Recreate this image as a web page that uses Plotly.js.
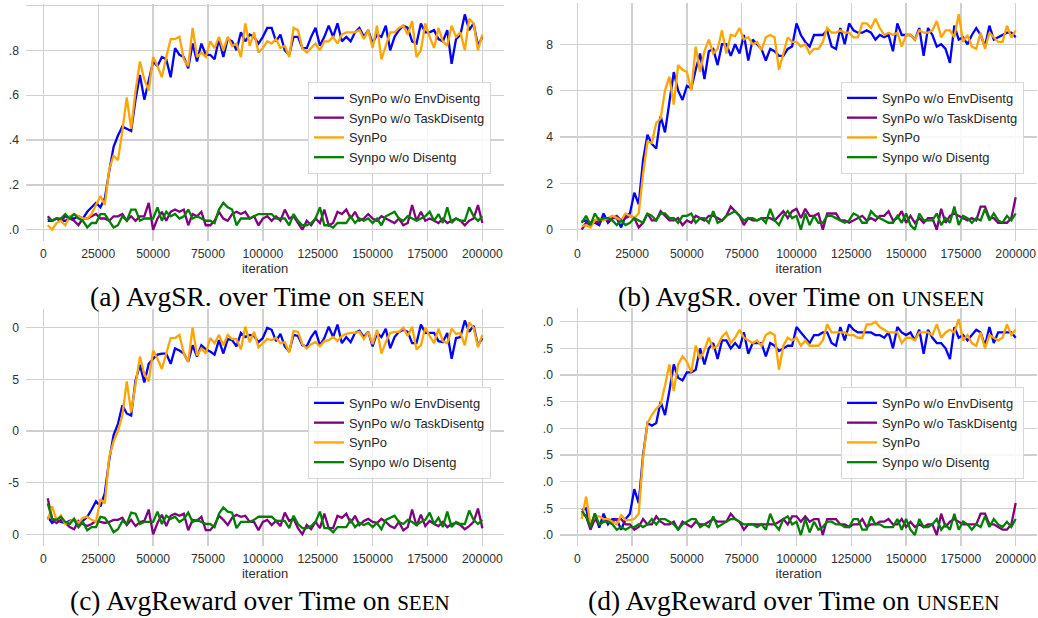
<!DOCTYPE html>
<html>
<head>
<meta charset="utf-8">
<script src="https://cdn.plot.ly/plotly-3.0.1.min.js"></script>
<style>
html,body{margin:0;padding:0;background:#fff;}
#chart{width:1038px;height:618px;}
</style>
</head>
<body>
<div id="chart"></div>
<script>
// iterations (x values)
const iterations = [2000,4000,6000,8000,10000,12000,14000,16000,18000,20000,
22000,24000,26000,28000,30000,32000,34000,36000,38000,40000,
42000,44000,46000,48000,50000,52000,54000,56000,58000,60000,
62000,64000,66000,68000,70000,72000,74000,76000,78000,80000,
82000,84000,86000,88000,90000,92000,94000,96000,98000,100000,
102000,104000,106000,108000,110000,112000,114000,116000,118000,120000,
122000,124000,126000,128000,130000,132000,134000,136000,138000,140000,
142000,144000,146000,148000,150000,152000,154000,156000,158000,160000,
162000,164000,166000,168000,170000,172000,174000,176000,178000,180000,
182000,184000,186000,188000,190000,192000,194000,196000,198000,200000];

const seriesNames = ["SynPo w/o EnvDisentg", "SynPo w/o TaskDisentg", "SynPo", "Synpo w/o Disentg"];
const seriesColors = ["#0000ff", "#800080", "#ffa500", "#008000"];

const xTickVals = [0,25000,50000,75000,100000,125000,150000,175000,200000];
const xTickText = ["0","25000","50000","75000","100000","125000","150000","175000","200000"];

// (a) AvgSR on SEEN
const srSeenEnv = [0.04,0.04,0.05,0.04,0.04,0.05,0.05,0.06,0.05,0.08,
0.10,0.12,0.10,0.14,0.26,0.37,0.42,0.46,0.45,0.44,
0.58,0.69,0.58,0.66,0.75,0.73,0.77,0.76,0.68,0.81,
0.78,0.77,0.72,0.83,0.75,0.83,0.78,0.78,0.76,0.85,
0.77,0.85,0.84,0.80,0.88,0.84,0.87,0.86,0.83,0.86,
0.90,0.90,0.84,0.87,0.80,0.78,0.86,0.86,0.81,0.81,
0.86,0.90,0.82,0.86,0.91,0.86,0.92,0.84,0.86,0.84,
0.88,0.90,0.86,0.89,0.83,0.87,0.86,0.91,0.80,0.86,
0.89,0.91,0.90,0.84,0.83,0.92,0.88,0.88,0.89,0.85,
0.84,0.89,0.74,0.85,0.87,0.96,0.89,0.92,0.82,0.86];
const srSeenTask = [0.06,0.04,0.05,0.04,0.06,0.05,0.04,0.02,0.05,0.05,
0.06,0.07,0.05,0.05,0.04,0.06,0.06,0.07,0.04,0.06,
0.04,0.06,0.06,0.12,0.00,0.05,0.08,0.04,0.08,0.09,
0.08,0.09,0.02,0.07,0.06,0.08,0.02,0.02,0.04,0.08,
0.05,0.04,0.07,0.08,0.07,0.08,0.05,0.06,0.02,0.05,
0.06,0.04,0.06,0.04,0.09,0.05,0.06,0.03,0.00,0.04,
0.02,0.05,0.03,0.09,0.02,0.03,0.08,0.07,0.09,0.05,
0.08,0.04,0.05,0.07,0.05,0.04,0.06,0.05,0.04,0.03,
0.05,0.02,0.03,0.11,0.04,0.08,0.04,0.05,0.04,0.03,
0.05,0.03,0.04,0.05,0.04,0.02,0.04,0.05,0.11,0.03];
const srSeenSynPo = [0.02,0.00,0.03,0.04,0.02,0.06,0.07,0.06,0.05,0.05,
0.07,0.11,0.15,0.11,0.27,0.33,0.31,0.44,0.59,0.45,
0.62,0.75,0.67,0.62,0.77,0.73,0.68,0.77,0.85,0.85,
0.86,0.76,0.73,0.90,0.77,0.79,0.77,0.84,0.81,0.86,
0.80,0.86,0.82,0.83,0.77,0.92,0.82,0.88,0.79,0.81,
0.84,0.83,0.85,0.81,0.82,0.77,0.90,0.89,0.81,0.79,
0.81,0.83,0.80,0.84,0.84,0.86,0.83,0.87,0.88,0.88,
0.88,0.89,0.85,0.89,0.81,0.91,0.76,0.82,0.88,0.88,
0.90,0.91,0.87,0.93,0.77,0.80,0.92,0.86,0.81,0.90,
0.84,0.82,0.91,0.86,0.88,0.80,0.94,0.92,0.80,0.87];
const srSeenNone = [0.05,0.04,0.05,0.05,0.07,0.05,0.07,0.05,0.04,0.01,
0.03,0.03,0.07,0.07,0.04,0.01,0.02,0.06,0.04,0.09,
0.09,0.04,0.05,0.05,0.05,0.10,0.04,0.08,0.06,0.07,
0.05,0.06,0.09,0.05,0.06,0.05,0.04,0.04,0.03,0.09,
0.12,0.10,0.09,0.02,0.05,0.05,0.05,0.06,0.07,0.07,
0.07,0.07,0.05,0.05,0.05,0.02,0.07,0.04,0.02,0.02,
0.03,0.05,0.10,0.02,0.02,0.01,0.03,0.03,0.03,0.06,
0.03,0.05,0.04,0.05,0.03,0.05,0.02,0.06,0.07,0.08,
0.05,0.04,0.06,0.05,0.04,0.05,0.06,0.08,0.04,0.07,
0.03,0.10,0.03,0.05,0.04,0.04,0.10,0.06,0.04,0.06];

// (b) AvgSR on UNSEEN
const srUnseenEnv = [0.35,0.4,0.3,0.3,0.2,0.7,0.3,0.5,0.5,0.1,
0.6,0.7,1.6,1.1,3.0,4.1,3.7,3.5,4.9,4.2,
5.5,6.8,6.0,5.6,6.2,6.1,6.9,7.6,6.5,7.7,
7.8,7.1,8.0,8.0,7.5,8.0,7.6,8.4,7.3,8.2,
8.0,7.8,7.3,7.8,7.7,7.5,7.5,7.8,7.9,8.9,
8.4,8.1,7.9,8.4,8.4,8.4,8.6,7.9,7.8,8.7,
8.0,8.9,8.6,8.5,8.5,8.6,8.5,8.2,8.4,8.3,
8.4,7.7,8.9,8.4,8.4,8.4,8.2,8.7,7.5,8.7,
8.4,7.9,8.0,7.8,7.2,8.8,8.2,8.3,8.0,8.4,
8.7,8.4,7.9,8.8,8.2,8.3,8.4,8.5,8.5,8.3];
const srUnseenTask = [0.0,0.3,0.2,0.4,0.3,0.5,0.4,0.5,0.6,0.4,
0.5,0.6,0.5,0.1,0.3,0.7,0.4,0.4,0.8,0.6,
0.4,0.4,0.5,0.2,0.4,0.3,0.6,0.5,0.4,0.6,
0.6,0.5,0.4,0.6,1.0,0.8,0.6,0.2,0.5,0.4,
0.4,0.5,0.5,0.5,0.4,0.6,0.8,0.5,0.8,0.9,
0.5,0.9,0.6,0.6,0.7,0.0,0.7,0.7,0.7,0.4,
0.4,0.3,0.4,0.5,0.6,0.4,0.5,0.4,0.6,0.6,
0.8,0.4,0.5,0.8,0.3,0.6,0.3,0.5,0.3,0.5,
0.5,0.0,0.9,0.3,0.6,0.7,0.6,0.5,0.4,0.5,
0.4,1.0,1.0,0.5,0.5,0.3,0.3,0.3,0.5,1.4];
const srUnseenSynPo = [0.15,0.2,0.1,0.4,0.5,0.4,0.5,0.6,0.5,0.4,
0.7,0.6,0.5,0.7,2.4,3.8,3.75,4.6,4.8,6.0,
6.6,5.4,7.1,6.9,6.8,6.0,7.9,6.8,7.7,8.2,
7.6,7.8,8.6,7.6,8.4,8.35,8.7,8.2,8.3,8.0,
8.1,7.75,8.3,8.4,8.3,6.9,7.6,8.3,8.1,8.1,
7.9,8.0,7.6,7.8,7.8,8.1,8.7,8.5,8.5,8.6,
8.5,8.5,8.3,8.3,8.9,8.9,8.7,9.1,8.7,8.4,
8.5,8.4,8.5,7.9,8.4,8.4,8.2,8.6,8.5,8.5,
8.6,9.0,8.3,8.6,8.6,8.3,9.3,8.1,8.4,7.9,
7.8,8.5,7.8,8.5,8.3,8.1,8.1,8.8,8.3,8.6];
const srUnseenNone = [0.3,0.6,0.2,0.7,0.4,0.5,0.5,0.4,0.2,0.4,
0.2,0.3,0.5,0.4,0.3,0.7,0.6,0.4,0.7,0.7,
0.5,0.5,0.3,0.6,0.6,0.7,0.3,0.5,0.5,0.3,
0.8,0.3,0.4,0.6,0.7,0.8,0.6,0.4,0.5,0.5,
0.4,0.5,0.3,0.9,0.4,0.2,0.6,0.8,0.5,0.6,
0.0,0.7,0.2,0.6,0.3,0.3,0.6,0.6,0.5,0.4,
0.3,0.4,0.7,0.6,0.3,0.3,0.8,0.6,0.5,0.4,
0.3,0.3,0.6,0.3,0.7,0.2,0.0,0.7,0.4,0.4,
0.4,0.7,0.2,0.5,0.3,1.0,0.2,0.6,0.5,0.3,
0.5,0.4,0.9,0.4,0.7,0.4,0.3,0.6,0.4,0.7];

// (c) AvgReward on SEEN
const rwSeenEnv = [-8.3,-8.9,-8.6,-8.8,-8.9,-8.7,-8.6,-9.2,-8.7,-8.3,
-7.6,-6.8,-7.3,-6.0,-2.8,-0.4,0.7,2.5,1.7,1.5,
4.9,6.4,4.7,6.5,7.0,7.4,7.5,7.5,6.5,8.0,
7.8,7.5,6.7,8.3,7.2,8.3,7.9,7.7,7.4,8.8,
7.5,8.9,8.8,8.2,9.5,9.1,9.3,9.2,8.6,9.0,
10.0,9.8,8.7,9.4,8.2,7.7,9.3,9.2,8.3,8.2,
9.1,9.7,8.3,9.0,10.1,9.1,10.3,8.5,9.1,8.6,
9.5,9.7,9.1,9.6,8.2,9.5,9.1,9.9,8.0,9.1,
9.6,9.8,9.6,8.5,8.5,10.3,9.5,9.5,9.5,8.7,
8.6,9.5,7.0,9.0,9.1,10.7,9.6,10.2,8.3,9.0];
const rwSeenTask = [-6.5,-8.5,-8.9,-8.6,-8.9,-9.3,-9.5,-8.7,-9.0,-9.2,
-9.0,-8.7,-8.8,-8.9,-8.8,-8.6,-8.6,-8.4,-9.1,-8.6,
-9.2,-8.8,-8.7,-7.6,-10.0,-8.9,-8.1,-9.2,-8.2,-8.0,
-8.2,-8.0,-9.6,-8.6,-8.7,-8.3,-9.6,-9.6,-9.1,-8.2,
-8.6,-9.1,-8.4,-8.1,-8.3,-8.2,-8.8,-8.8,-9.6,-8.8,
-8.6,-9.1,-8.7,-9.2,-7.9,-8.7,-8.5,-9.4,-10.0,-9.1,
-9.5,-8.8,-9.4,-8.0,-9.4,-9.4,-8.2,-8.4,-8.0,-8.9,
-8.2,-9.1,-8.7,-8.5,-8.8,-8.9,-8.5,-8.8,-9.2,-9.4,
-8.8,-9.6,-9.3,-7.6,-9.2,-8.1,-9.2,-8.7,-9.0,-9.2,
-8.8,-9.3,-9.0,-8.9,-9.1,-9.5,-9.2,-8.8,-7.5,-9.4];
const rwSeenSynPo = [-8.6,-7.3,-8.6,-8.2,-9.0,-8.8,-8.5,-8.9,-8.4,-8.3,
-8.6,-8.8,-6.6,-7.0,-2.5,-1.0,0.0,1.5,4.8,1.8,
4.5,7.2,5.5,4.8,7.8,7.0,6.0,7.5,9.0,9.0,
9.3,7.5,6.7,10.0,7.3,8.0,7.5,9.0,8.5,9.3,
8.3,9.3,8.9,8.9,7.9,10.1,8.6,9.6,8.1,8.5,
8.9,8.8,9.0,8.5,8.6,7.6,9.7,9.6,8.4,8.0,
8.4,8.6,8.2,8.7,8.8,9.1,8.7,9.2,9.4,9.5,
9.5,9.6,8.9,9.6,8.4,9.8,7.5,8.6,9.5,9.6,
9.6,10.0,9.2,10.1,7.9,8.3,10.0,9.2,8.5,9.9,
8.7,8.5,9.9,9.4,9.5,8.3,10.5,10.0,8.1,9.3];
const rwSeenNone = [-7.0,-8.5,-8.6,-8.3,-8.8,-9.0,-8.5,-9.3,-8.8,-9.6,
-9.3,-9.3,-8.3,-8.4,-9.0,-9.8,-9.5,-8.7,-9.0,-7.9,
-8.0,-9.0,-8.8,-8.8,-8.8,-7.8,-9.0,-8.2,-8.5,-8.3,
-8.8,-8.5,-7.9,-8.8,-8.6,-8.8,-9.0,-9.0,-9.3,-8.0,
-7.4,-7.8,-7.9,-9.4,-8.8,-8.8,-8.8,-8.6,-8.3,-8.3,
-8.3,-8.3,-8.7,-8.7,-8.7,-9.4,-8.2,-9.0,-9.4,-9.4,
-9.2,-8.8,-7.8,-9.4,-9.4,-9.8,-9.3,-9.3,-9.3,-8.6,
-9.3,-8.9,-9.1,-8.9,-9.3,-8.9,-9.5,-8.6,-8.4,-8.2,
-8.8,-9.0,-8.6,-8.8,-9.1,-8.8,-8.6,-7.9,-9.0,-8.4,
-9.3,-7.8,-9.3,-8.8,-9.0,-9.0,-7.7,-8.6,-9.0,-8.6];

// (d) AvgReward on UNSEEN
const rwUnseenEnv = [0.47,0.5,0.13,0.4,0.14,0.4,0.2,0.3,0.3,0.1,
0.3,0.4,0.86,0.6,1.5,2.1,2.05,2.1,2.5,2.25,
2.7,3.2,2.95,2.9,3.05,3.05,3.1,3.5,3.2,3.5,
3.6,3.3,3.65,3.65,3.5,3.6,3.5,3.8,3.4,3.6,
3.6,3.6,3.35,3.6,3.55,3.45,3.5,3.55,3.55,3.9,
3.8,3.7,3.6,3.75,3.75,3.8,3.8,3.6,3.55,3.9,
3.65,3.95,3.85,3.8,3.8,3.8,3.8,3.75,3.75,3.7,
3.8,3.5,3.9,3.8,3.75,3.8,3.65,3.85,3.4,3.85,
3.7,3.6,3.6,3.5,3.3,3.9,3.7,3.75,3.65,3.75,
3.85,3.8,3.55,3.9,3.6,3.8,3.8,3.8,3.8,3.7];
const rwUnseenTask = [0.4,0.35,0.1,0.3,0.2,0.25,0.3,0.25,0.3,0.3,
0.2,0.2,0.1,0.15,0.3,0.2,0.2,0.35,0.25,0.2,
0.2,0.25,0.1,0.25,0.2,0.15,0.25,0.2,0.2,0.25,
0.3,0.25,0.25,0.25,0.4,0.3,0.25,0.1,0.2,0.2,
0.2,0.2,0.2,0.2,0.2,0.25,0.3,0.2,0.35,0.35,
0.25,0.35,0.25,0.3,0.3,0.0,0.3,0.3,0.3,0.2,
0.2,0.15,0.2,0.2,0.3,0.15,0.2,0.2,0.25,0.25,
0.3,0.2,0.2,0.3,0.15,0.25,0.15,0.2,0.15,0.2,
0.2,0.0,0.4,0.15,0.25,0.3,0.25,0.2,0.2,0.2,
0.2,0.4,0.4,0.2,0.2,0.15,0.1,0.1,0.2,0.6];
const rwUnseenSynPo = [0.3,0.72,0.2,0.35,0.35,0.3,0.3,0.25,0.2,0.37,
0.28,0.28,0.3,0.4,1.45,2.1,2.25,2.37,2.45,2.8,
3.2,2.7,3.2,3.35,3.25,3.05,3.55,3.3,3.47,3.7,
3.5,3.55,3.72,3.8,3.6,3.7,3.85,3.7,3.65,3.6,
3.65,3.55,3.75,3.8,3.75,3.1,3.55,3.7,3.65,3.7,
3.55,3.65,3.55,3.55,3.55,3.65,3.95,3.8,3.8,3.8,
3.8,3.75,3.75,3.7,3.7,3.95,3.95,4.0,3.9,3.85,
3.8,3.8,3.8,3.6,3.7,3.7,3.65,3.8,3.8,3.8,
3.75,3.95,3.7,3.8,3.85,3.8,4.05,3.65,3.75,3.6,
3.55,3.8,3.5,3.75,3.7,3.65,3.7,3.95,3.75,3.85];
const rwUnseenNone = [0.45,0.35,0.15,0.4,0.2,0.25,0.25,0.2,0.1,0.15,
0.1,0.15,0.15,0.2,0.15,0.2,0.3,0.2,0.3,0.3,
0.25,0.2,0.1,0.2,0.25,0.3,0.3,0.15,0.2,0.15,
0.35,0.15,0.2,0.25,0.3,0.3,0.25,0.2,0.2,0.2,
0.15,0.2,0.1,0.4,0.2,0.1,0.3,0.35,0.2,0.25,
0.0,0.3,0.05,0.25,0.1,0.15,0.25,0.25,0.2,0.2,
0.15,0.15,0.3,0.3,0.1,0.1,0.35,0.2,0.2,0.15,
0.15,0.15,0.3,0.1,0.3,0.1,0.0,0.3,0.15,0.15,
0.2,0.3,0.1,0.2,0.1,0.4,0.1,0.25,0.2,0.1,
0.2,0.15,0.35,0.15,0.3,0.2,0.15,0.25,0.15,0.3];

// y tick labels as visible in the (cropped) reference panels
const yTickValsA = [0,0.2,0.4,0.6,0.8,1.0];
const yTickTextA = [".0",".2",".4",".6",".8",".0"];
const yTickValsB = [0,2,4,6,8];
const yTickTextB = ["0","2","4","6","8"];
const yTickValsC = [-10,-5,0,5,10];
const yTickTextC = ["0","-5","0","5","0"];
const yTickValsD = [0,0.5,1,1.5,2,2.5,3,3.5,4];
const yTickTextD = [".0",".5",".0",".5",".0",".5",".0",".5",".0"];

const captions = [
  "(a) AvgSR. over Time on <span style=\"font-size:21px\">SEEN</span>",
  "(b) AvgSR. over Time on <span style=\"font-size:21px\">UNSEEN</span>",
  "(c) AvgReward over Time on <span style=\"font-size:21px\">SEEN</span>",
  "(d) AvgReward over Time on <span style=\"font-size:21px\">UNSEEN</span>"
];

const panels = [
  {ax:"", leg:"legend", data:[srSeenEnv, srSeenTask, srSeenSynPo, srSeenNone]},
  {ax:"2", leg:"legend2", data:[srUnseenEnv, srUnseenTask, srUnseenSynPo, srUnseenNone]},
  {ax:"3", leg:"legend3", data:[rwSeenEnv, rwSeenTask, rwSeenSynPo, rwSeenNone]},
  {ax:"4", leg:"legend4", data:[rwUnseenEnv, rwUnseenTask, rwUnseenSynPo, rwUnseenNone]}
];

const traces = [];
panels.forEach(p => {
  p.data.forEach((ys, k) => {
    traces.push({
      x: iterations, y: ys, type: "scatter", mode: "lines",
      name: seriesNames[k],
      line: {color: seriesColors[k], width: 2.3},
      xaxis: "x" + p.ax, yaxis: "y" + p.ax,
      legend: p.leg, showlegend: true, hoverinfo: "skip"
    });
  });
});

const W = 1038, H = 618;
const SANS = "Liberation Sans, Arial, Helvetica, sans-serif";
const SERIF = "Liberation Serif, Times New Roman, serif";
function px2x(a, b){ return [a / W, b / W]; }
function px2y(top, bottom){ return [1 - bottom / H, 1 - top / H]; }

function xAxis(dom, anchor){
  return {
    domain: dom, anchor: anchor, range: [-7900, 209900],
    tickvals: xTickVals, ticktext: xTickText,
    showgrid: true, gridcolor: "#d0d0d0", gridwidth: 1.3,
    zeroline: false, showline: false, ticks: "",
    tickfont: {family: SANS, size: 12.2, color: "#303030"},
    ticklabelstandoff: 4,
    title: {text: "iteration", font: {family: SANS, size: 13, color: "#303030"}, standoff: 3},
    automargin: false, fixedrange: true
  };
}
function yAxis(dom, anchor, range, vals, text){
  return {
    domain: dom, anchor: anchor, range: range,
    tickvals: vals, ticktext: text,
    showgrid: true, gridcolor: "#d0d0d0", gridwidth: 1.3,
    zeroline: false, showline: false, ticks: "",
    tickfont: {family: SANS, size: 12.2, color: "#303030"},
    ticklabelstandoff: 6,
    automargin: false, fixedrange: true
  };
}
function legendAt(xpx, ypx){
  return {
    x: xpx / W, y: 1 - ypx / H, xanchor: "left", yanchor: "top",
    xref: "paper", yref: "paper",
    bgcolor: "rgba(255,255,255,0.85)", bordercolor: "#d8d8d8", borderwidth: 1,
    font: {family: SANS, size: 12.9, color: "#262626"},
    tracegroupgap: 0, itemwidth: 30
  };
}

const layout = {
  width: W, height: H,
  margin: {l: 0, r: 0, t: 0, b: 0, pad: 0},
  paper_bgcolor: "#ffffff", plot_bgcolor: "#ffffff",
  showlegend: true,
  xaxis:  xAxis(px2x(26.0, 504.1), "y"),
  yaxis:  yAxis(px2y(3.65, 240.5), "x", [-0.048, 1.008], yTickValsA, yTickTextA),
  xaxis2: xAxis(px2x(560.0, 1037.4), "y2"),
  yaxis2: yAxis(px2y(3.35, 240.5), "x2", [-0.465, 9.765], yTickValsB, yTickTextB),
  xaxis3: xAxis(px2x(26.0, 504.1), "y3"),
  yaxis3: yAxis(px2y(308.6, 545.7), "x3", [-11.1, 11.85], yTickValsC, yTickTextC),
  xaxis4: xAxis(px2x(560.0, 1037.4), "y4"),
  yaxis4: yAxis(px2y(308.4, 545.7), "x4", [-0.2, 4.25], yTickValsD, yTickTextD),
  legend:  legendAt(308, 82),
  legend2: legendAt(841, 82),
  legend3: legendAt(308, 387),
  legend4: legendAt(841, 387),
  annotations: [
    {text: captions[0], x: 257/W, y: 1 - 296/H},
    {text: captions[1], x: 801/W, y: 1 - 296/H},
    {text: captions[2], x: 260/W, y: 1 - 600/H},
    {text: captions[3], x: 794/W, y: 1 - 600/H}
  ].map(a => Object.assign(a, {
    xref: "paper", yref: "paper", xanchor: "center", yanchor: "middle",
    showarrow: false, font: {family: SERIF, size: 27.5, color: "#000000"}
  }))
};

Plotly.newPlot("chart", traces, layout, {staticPlot: true, displayModeBar: false});
</script>
</body>
</html>
